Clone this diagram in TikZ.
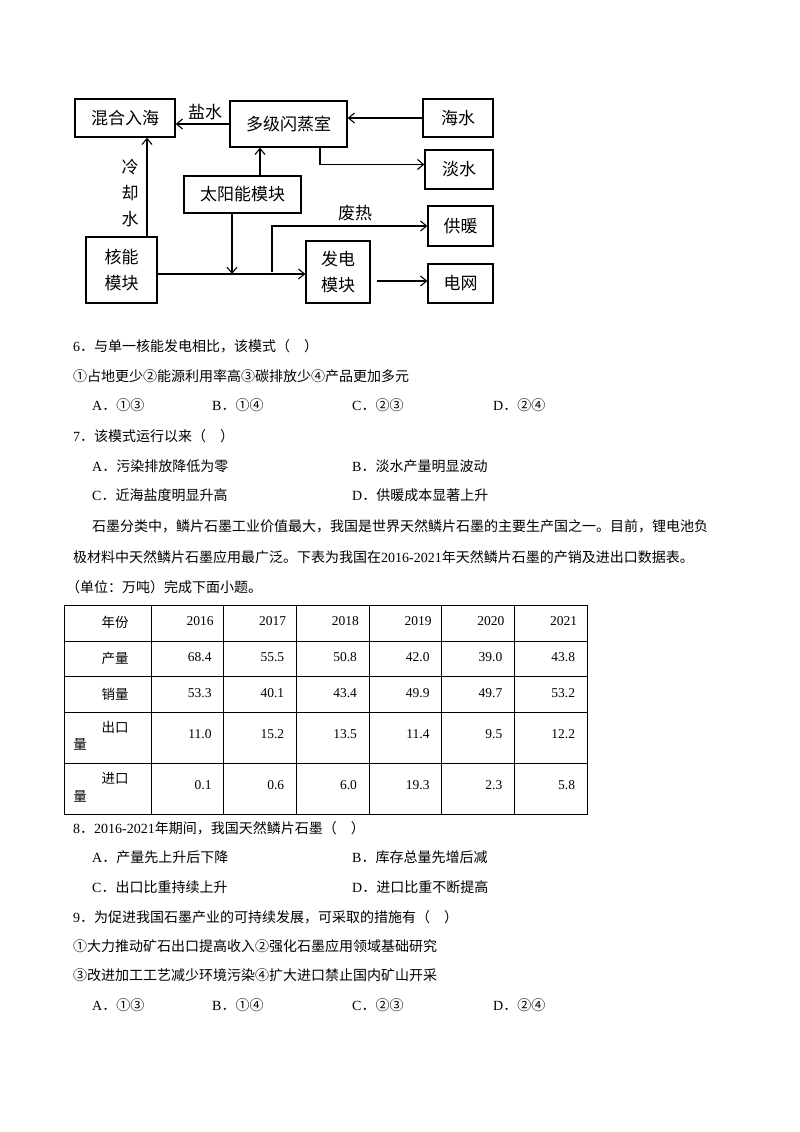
\documentclass[tikz,border=0pt]{standalone}
\usepackage{fontspec}
\setmainfont{Liberation Serif}
\newfontfamily\cjk{Noto Sans CJK SC}
\newcommand{\zh}[1]{{\cjk #1}}
\usetikzlibrary{arrows.meta}
\begin{document}
\begin{tikzpicture}[x=1pt,y=-1pt,
  box/.style={draw,line width=1.3pt,inner sep=0pt,align=center,font=\cjk\fontsize{17}{22}\selectfont},
  arr/.style={line width=1.1pt,-{Straight Barb[length=6pt,width=10pt]}},
  lbl/.style={font=\cjk\fontsize{17}{20}\selectfont,inner sep=0pt},
  tx/.style={anchor=west,inner sep=0pt,font=\fontsize{14}{16}\selectfont},
  cell/.style={inner sep=0pt,font=\fontsize{13.5}{16}\selectfont}]
\useasboundingbox (0,0) rectangle (800,1132);
% diagram
\node[box,minimum width=100pt,minimum height=38pt] (mix) at (125,118) {混合入海};
\node[box,minimum width=117pt,minimum height=46pt] (flash) at (288.5,124) {多级闪蒸室};
\node[box,minimum width=70pt,minimum height=38pt] (sea) at (458,118) {海水};
\node[box,minimum width=68pt,minimum height=39pt] (fresh) at (459,169.5) {淡水};
\node[box,minimum width=117pt,minimum height=37pt] (solar) at (242.5,194.5) {太阳能模块};
\node[box,minimum width=65pt,minimum height=40pt] (heat) at (460.5,226) {供暖};
\node[box,minimum width=71pt,minimum height=66pt] (nuc) at (121.5,270) {核能\\[4pt]模块};
\node[box,minimum width=64pt,minimum height=62pt] (gen) at (338,272) {发电\\[4pt]模块};
\node[box,minimum width=65pt,minimum height=39pt] (grid) at (460.5,283.5) {电网};
\coordinate (f0) at (320,147);
\coordinate (s0) at (260,176);
\coordinate (n0) at (147,237);
\coordinate (n1) at (157,274);
\coordinate (j0) at (232,213);
\coordinate (j1) at (232,274);
\coordinate (w0) at (272,272);
\coordinate (g0) at (377,281);
\draw[arr] (flash.west) -- (flash.west -| mix.east);
\draw[arr] (sea.west) -- (sea.west -| flash.east);
\draw[arr] (f0) |- ([yshift=5pt]fresh.west);
\draw[arr] (s0) -- (s0 |- flash.south);
\draw[arr] (n0) -- (n0 |- mix.south);
\draw[arr] (n1) -- (n1 -| gen.west);
\draw[arr] (j0) -- (j1);
\draw[arr] (w0) |- (heat.west);
\draw[arr] (g0) -- (g0 -| grid.west);
\node[lbl] (lsalt) at (205,112) {盐水};
\node[lbl] (lwaste) at (355,213) {废热};
\node[lbl,align=center] (lcool) at (130,193) {冷\\[6pt]却\\[6pt]水};
% questions 6,7
\node[tx] (q6) at (73,346) {6\zh{．与单一核能发电相比，该模式（　）}};
\node[tx] (q6s) at (73,376) {\zh{①占地更少②能源利用率高③碳排放少④产品更加多元}};
\node[tx] (q6a) at (92,405) {A\zh{．①③}};
\node[tx] (q6b) at (212,405) {B\zh{．①④}};
\node[tx] (q6c) at (352,405) {C\zh{．②③}};
\node[tx] (q6d) at (493,405) {D\zh{．②④}};
\node[tx] (q7) at (73,436) {7\zh{．该模式运行以来（　）}};
\node[tx] (q7a) at (92,466) {A\zh{．污染排放降低为零}};
\node[tx] (q7b) at (352,466) {B\zh{．淡水产量明显波动}};
\node[tx] (q7c) at (92,495) {C\zh{．近海盐度明显升高}};
\node[tx] (q7d) at (352,495) {D\zh{．供暖成本显著上升}};
\node[tx] (p1) at (92,526) {\zh{石墨分类中，鳞片石墨工业价值最大，我国是世界天然鳞片石墨的主要生产国之一。目前，锂电池负}};
\node[tx] (p2) at (73,557) {\zh{极材料中天然鳞片石墨应用最广泛。下表为我国在}2016-2021\zh{年天然鳞片石墨的产销及进出口数据表。}};
\node[tx] (p3) at (66,587) {\zh{（单位：万吨）完成下面小题。}};
% table
\draw[line width=1pt] (64,605) rectangle (587,814);
\foreach \y in {641,676,712,763} \draw[line width=1pt] (64,\y) -- (587,\y);
\foreach \x in {151,223,296,369,441,514} \draw[line width=1pt] (\x,605) -- (\x,814);
\node[cell] (h0) at (115,622) {\zh{年份}};
\node[cell] (r1) at (115,658) {\zh{产量}};
\node[cell] (r2) at (115,694) {\zh{销量}};
\node[cell] (r3) at (115,727) {\zh{出口}};
\node[cell] (r3b) at (80,744) {\zh{量}};
\node[cell] (r4) at (115,778) {\zh{进口}};
\node[cell] (r4b) at (80,796) {\zh{量}};
\foreach \v [count=\i] in {2016,2017,2018,2019,2020,2021}
  \node[cell,anchor=east] at (151+\i*72.7-10,621) {\v};
\foreach \v [count=\i] in {68.4,55.5,50.8,42.0,39.0,43.8}
  \node[cell,anchor=east] at (151+\i*72.7-12,657) {\v};
\foreach \v [count=\i] in {53.3,40.1,43.4,49.9,49.7,53.2}
  \node[cell,anchor=east] at (151+\i*72.7-12,693) {\v};
\foreach \v [count=\i] in {11.0,15.2,13.5,11.4,9.5,12.2}
  \node[cell,anchor=east] at (151+\i*72.7-12,734) {\v};
\foreach \v [count=\i] in {0.1,0.6,6.0,19.3,2.3,5.8}
  \node[cell,anchor=east] at (151+\i*72.7-12,785) {\v};
% questions 8,9
\node[tx] (q8) at (73,828) {8\zh{．}2016-2021\zh{年期间，我国天然鳞片石墨（　）}};
\node[tx] (q8a) at (92,857) {A\zh{．产量先上升后下降}};
\node[tx] (q8b) at (352,857) {B\zh{．库存总量先增后减}};
\node[tx] (q8c) at (92,887) {C\zh{．出口比重持续上升}};
\node[tx] (q8d) at (352,887) {D\zh{．进口比重不断提高}};
\node[tx] (q9) at (73,917) {9\zh{．为促进我国石墨产业的可持续发展，可采取的措施有（　）}};
\node[tx] (q9s1) at (73,946) {\zh{①大力推动矿石出口提高收入②强化石墨应用领域基础研究}};
\node[tx] (q9s2) at (73,975) {\zh{③改进加工工艺减少环境污染④扩大进口禁止国内矿山开采}};
\node[tx] (q9a) at (92,1005) {A\zh{．①③}};
\node[tx] (q9b) at (212,1005) {B\zh{．①④}};
\node[tx] (q9c) at (352,1005) {C\zh{．②③}};
\node[tx] (q9d) at (493,1005) {D\zh{．②④}};
\end{tikzpicture}
\end{document}
